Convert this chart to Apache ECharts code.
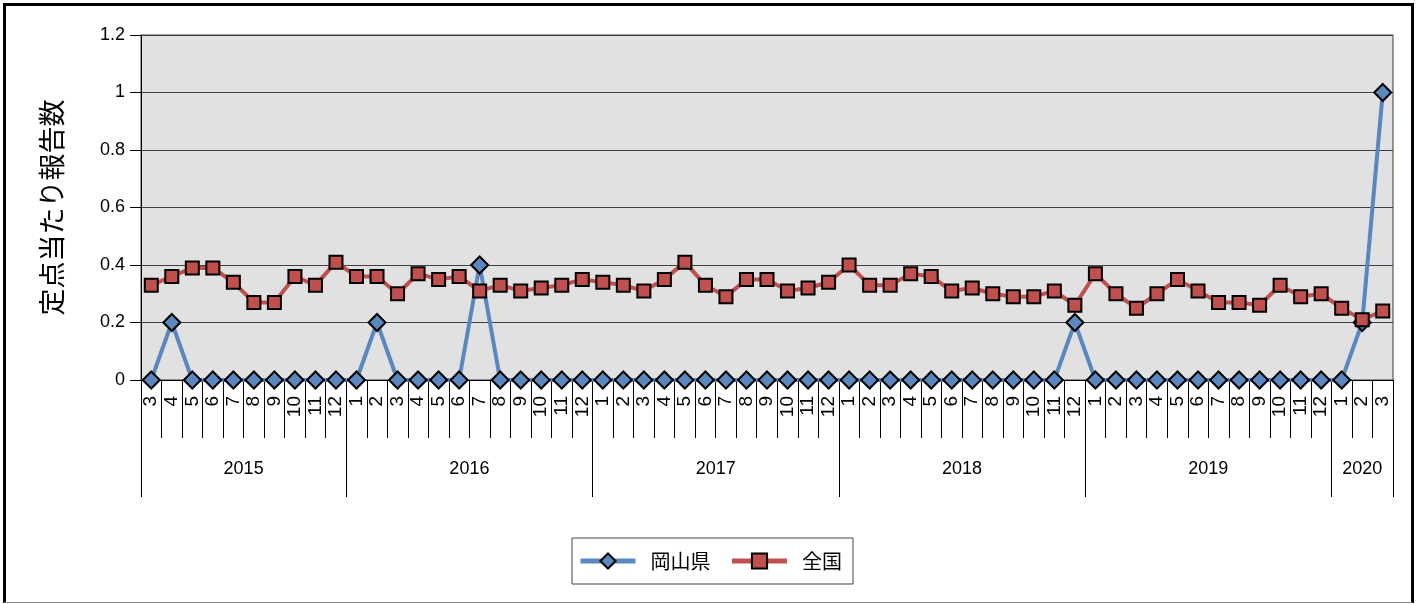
<!DOCTYPE html>
<html>
<head>
<meta charset="utf-8">
<script src="https://cdn.jsdelivr.net/npm/echarts@6/dist/echarts.min.js"></script>
<style>
html,body{margin:0;padding:0;background:#fff;}
#chart{width:1424px;height:604px;}
</style>
</head>
<body>
<div id="chart"></div>
<script>
const monthLabels = ['3','4','5','6','7','8','9','10','11','12',
  '1','2','3','4','5','6','7','8','9','10','11','12',
  '1','2','3','4','5','6','7','8','9','10','11','12',
  '1','2','3','4','5','6','7','8','9','10','11','12',
  '1','2','3','4','5','6','7','8','9','10','11','12',
  '1','2','3'];
const years = ['2015','2016','2017','2018','2019','2020'];
const yearMonthCounts = [10,12,12,12,12,3];
const okayama = [0,0.2,0,0,0,0,0,0,0,0,
  0,0.2,0,0,0,0,0.4,0,0,0,0,0,
  0,0,0,0,0,0,0,0,0,0,0,0,
  0,0,0,0,0,0,0,0,0,0,0,0.2,
  0,0,0,0,0,0,0,0,0,0,0,0,
  0,0.2,1.0];
const zenkoku = [0.33,0.36,0.39,0.39,0.34,0.27,0.27,0.36,0.33,0.41,
  0.36,0.36,0.30,0.37,0.35,0.36,0.31,0.33,0.31,0.32,0.33,0.35,
  0.34,0.33,0.31,0.35,0.41,0.33,0.29,0.35,0.35,0.31,0.32,0.34,
  0.40,0.33,0.33,0.37,0.36,0.31,0.32,0.30,0.29,0.29,0.31,0.26,
  0.37,0.30,0.25,0.30,0.35,0.31,0.27,0.27,0.26,0.33,0.29,0.30,
  0.25,0.21,0.24];
const seriesNames = ['岡山県','全国'];
const yTickLabels = ['0','0.2','0.4','0.6','0.8','1','1.2'];
const yAxisName = '定点当たり報告数';

// Year axis at half-month resolution (boundaryGap false): point k = k half-months from left.
const totalMonths = monthLabels.length;
const yearAxisData = new Array(totalMonths * 2 + 1).fill('');
const yearBoundaries = new Set();
const yearCenters = new Set();
let start = 0;
years.forEach((y, i) => {
  yearBoundaries.add(start * 2);
  const c = start * 2 + yearMonthCounts[i];
  yearAxisData[c] = y;
  yearCenters.add(c);
  start += yearMonthCounts[i];
});
yearBoundaries.add(totalMonths * 2);

const numFont = 'Liberation Sans, Arial, sans-serif';
const jpFont = 'Noto Sans CJK JP, sans-serif';

const chart = echarts.init(document.getElementById('chart'), null, {renderer: 'canvas'});
chart.setOption({
  animation: false,
  backgroundColor: '#ffffff',
  graphic: [
    {type: 'polyline', shape: {points: [[4.5, 603], [4.5, 4.5], [1412.5, 4.5], [1412.5, 603]]},
     style: {stroke: '#000', lineWidth: 3, fill: null}, z: 100},
    {type: 'line', shape: {x1: 4, y1: 602.5, x2: 1412, y2: 602.5},
     style: {stroke: '#888', lineWidth: 1}, z: 100}
  ],
  grid: {
    left: 141, right: 31, top: 35, bottom: 224,
    show: true, backgroundColor: '#e1e1e1', borderColor: '#3a3a3a', borderWidth: 1
  },
  legend: {
    data: seriesNames,
    left: 572, top: 538,
    backgroundColor: '#fff',
    borderColor: '#444', borderWidth: 1,
    padding: [13, 11, 13, 6],
    itemGap: 19,
    itemWidth: 55, itemHeight: 19,
    lineStyle: {width: 5},
    textStyle: {fontFamily: jpFont, fontSize: 20, color: '#000', padding: [0, 0, 0, 10]}
  },
  xAxis: [
    {
      type: 'category', position: 'bottom',
      data: monthLabels, boundaryGap: true,
      axisLine: {show: true, lineStyle: {color: '#000', width: 1}},
      axisTick: {show: true, interval: 0, length: 58, lineStyle: {color: '#000', width: 1}},
      axisLabel: {interval: 0, rotate: 90, margin: 16, fontFamily: numFont, fontSize: 19, color: '#000'},
      splitLine: {show: false}
    },
    {
      type: 'category', position: 'bottom',
      data: yearAxisData, boundaryGap: false,
      axisLine: {show: false},
      axisTick: {show: true, length: 117, interval: (i) => yearBoundaries.has(i),
                 lineStyle: {color: '#000', width: 1}},
      axisLabel: {interval: (i) => yearCenters.has(i), margin: 80,
                  fontFamily: numFont, fontSize: 18, color: '#000'},
      splitLine: {show: false}
    }
  ],
  yAxis: {
    type: 'value', min: 0, max: 1.2, interval: 0.2,
    name: yAxisName, nameLocation: 'middle', nameRotate: 90, nameGap: 76,
    nameTextStyle: {fontFamily: jpFont, fontSize: 27, color: '#000'},
    axisLine: {show: true, lineStyle: {color: '#000', width: 1}},
    axisTick: {show: true, length: 11, lineStyle: {color: '#000'}},
    axisLabel: {margin: 16, fontFamily: numFont, fontSize: 18, color: '#000',
                formatter: (v) => yTickLabels[Math.round(v / 0.2)]},
    splitLine: {show: true, lineStyle: {color: '#404040', width: 1}}
  },
  series: [
    {
      name: seriesNames[0], type: 'line', xAxisIndex: 0, data: okayama,
      symbol: 'diamond', symbolSize: [17, 17], showAllSymbol: true,
      lineStyle: {color: '#5b87bf', width: 4},
      itemStyle: {color: '#5b87bf', borderColor: '#000', borderWidth: 2},
      z: 2
    },
    {
      name: seriesNames[1], type: 'line', xAxisIndex: 0, data: zenkoku,
      symbol: 'rect', symbolSize: 13, showAllSymbol: true,
      lineStyle: {color: '#c0504d', width: 4},
      itemStyle: {color: '#c0504d', borderColor: '#000', borderWidth: 2},
      z: 3
    }
  ]
});
</script>
</body>
</html>
